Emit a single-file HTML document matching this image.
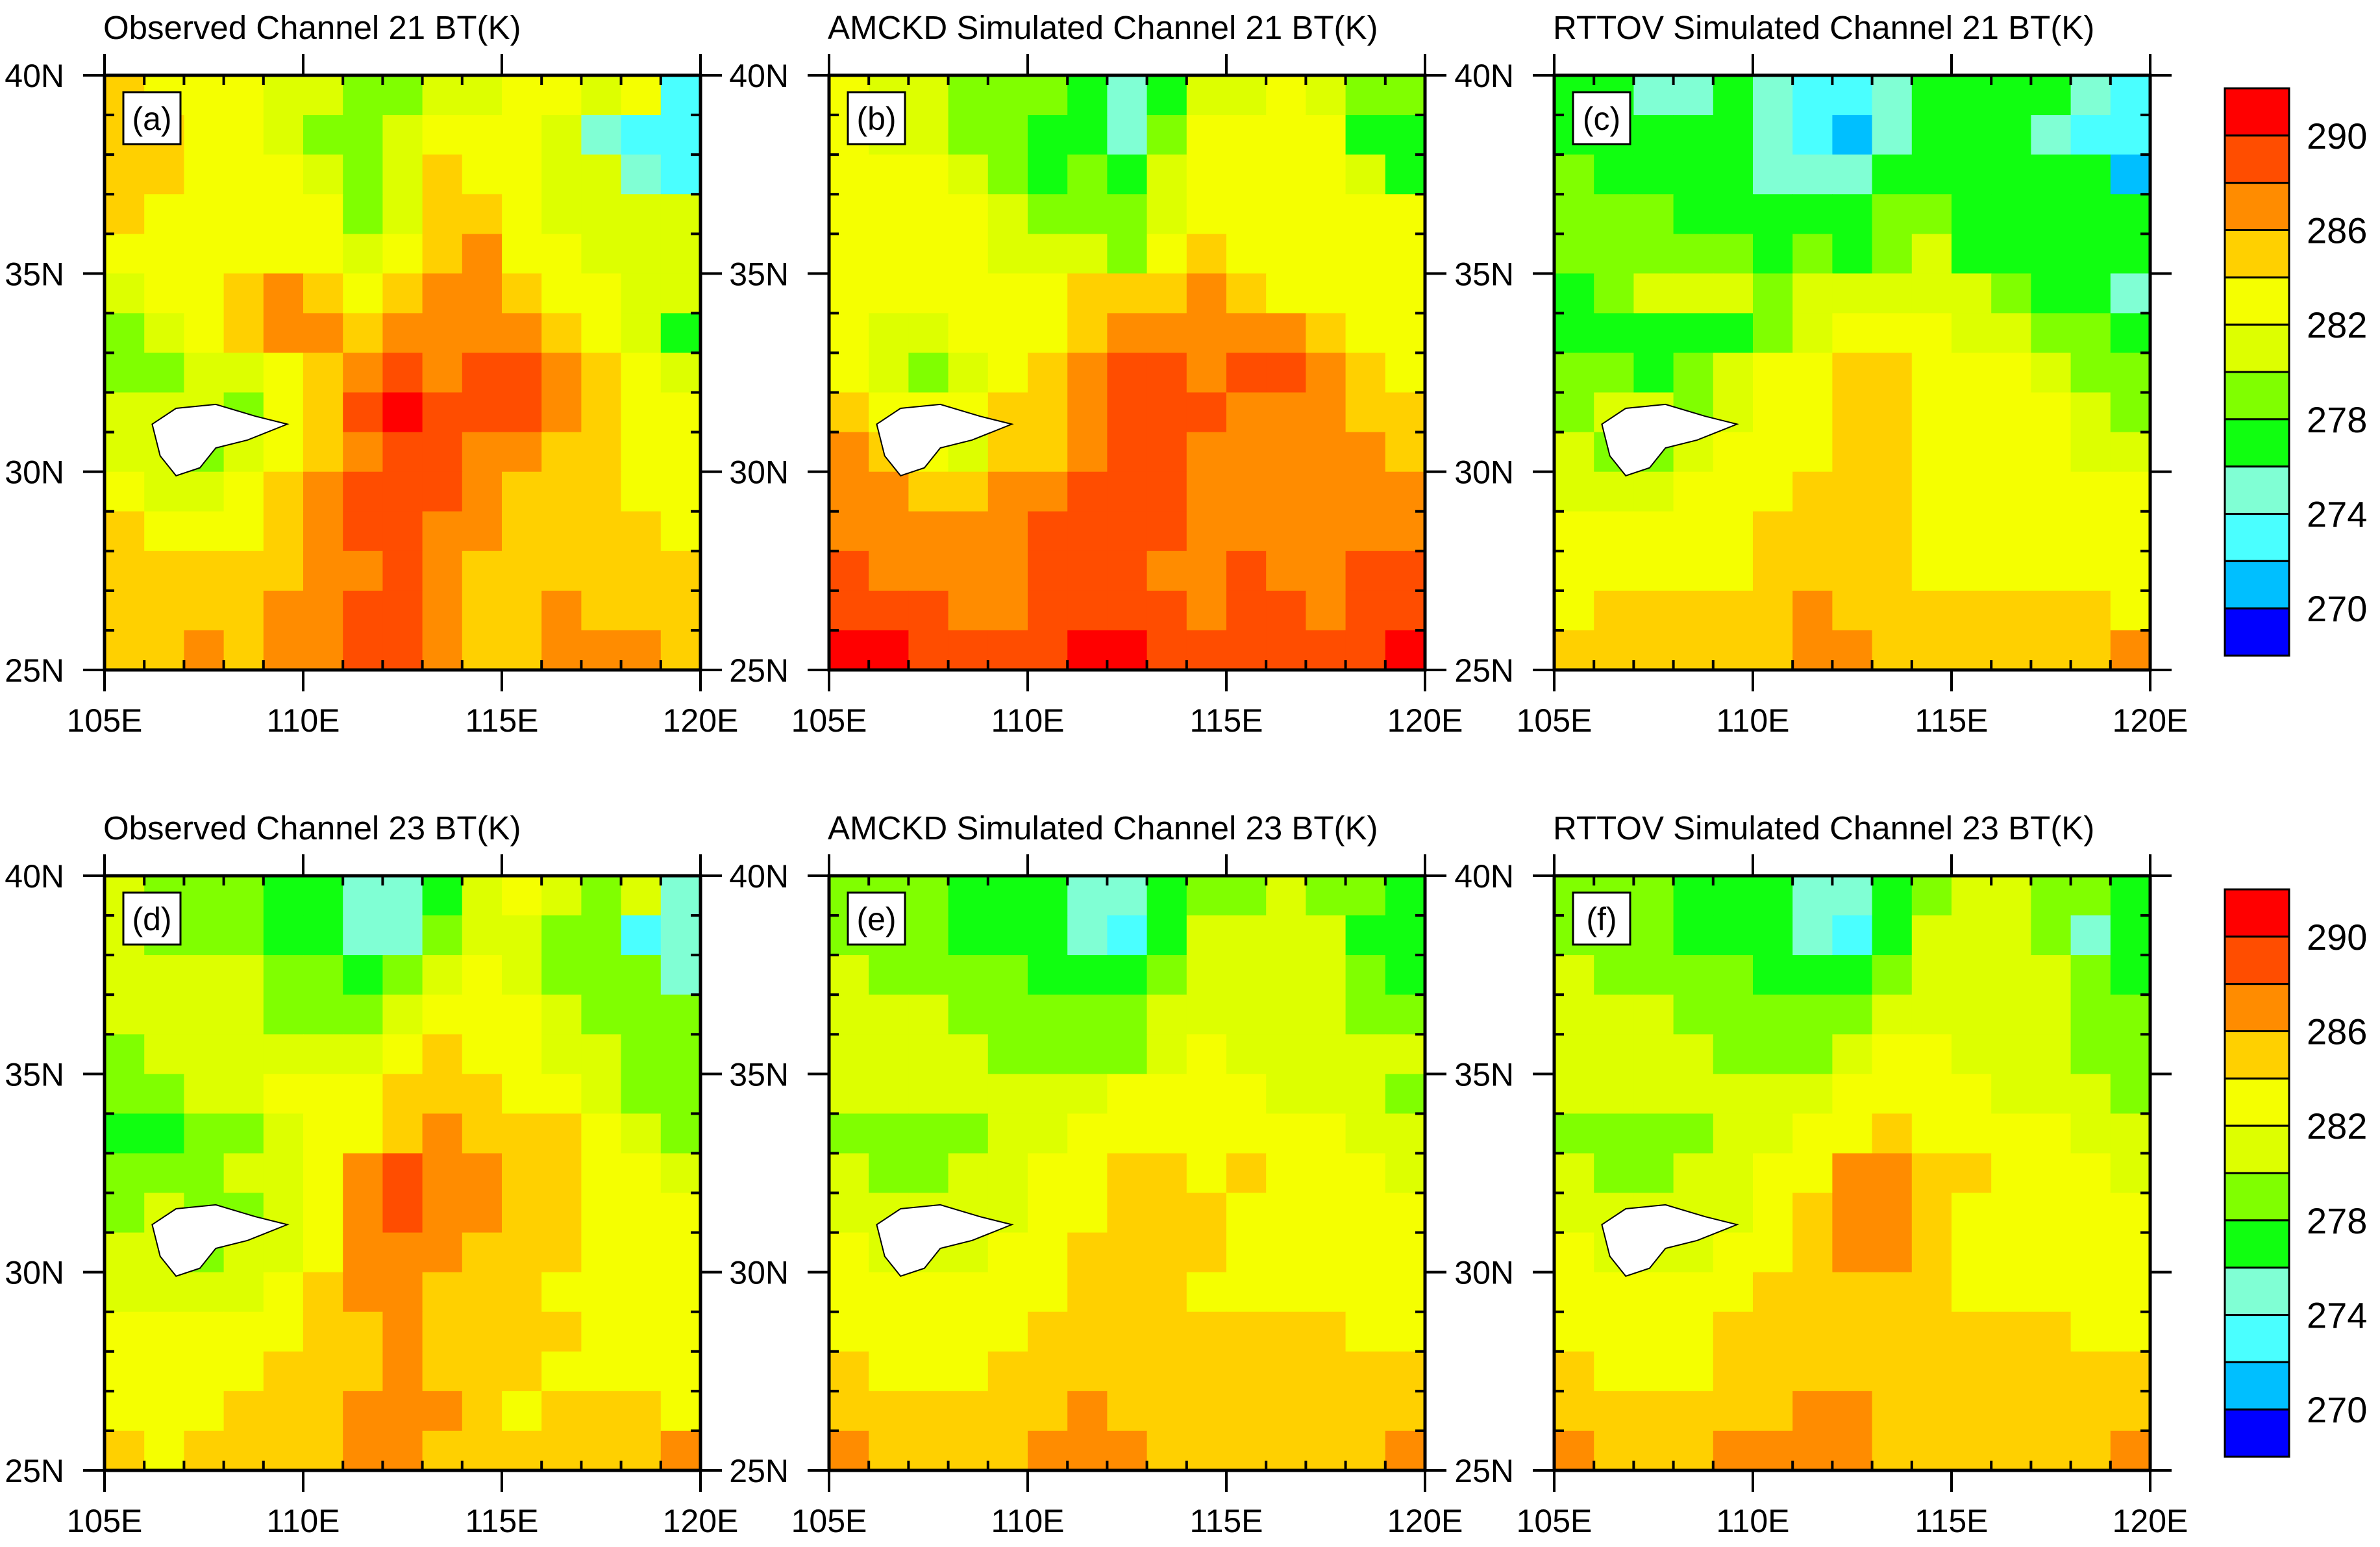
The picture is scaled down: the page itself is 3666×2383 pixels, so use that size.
<!DOCTYPE html>
<html><head><meta charset="utf-8">
<style>
html,body{margin:0;padding:0;background:#fff;}
svg{display:block;font-family:"Liberation Sans",Arial,sans-serif;}
</style></head>
<body>
<svg id="fig" width="3666" height="2383" viewBox="0 0 3666 2383" xmlns="http://www.w3.org/2000/svg"></svg>
<script>
// ---- data ----
const lonTicks = ["105E","110E","115E","120E"];
const latTicks = ["40N","35N","30N","25N"];
const cbLabels = ["290","286","282","278","274","270"];
const levels = [270,272,274,276,278,280,282,284,286,288,290];
const colors = ["#0000FF","#00BFFF","#4AFFFF","#80FFD4","#10FF10","#80FF00","#DDFF00","#F5FF00","#FFD000","#FF8C00","#FF4D00","#FF0000"];
const titles = ["Observed Channel 21 BT(K)","AMCKD Simulated Channel 21 BT(K)","RTTOV Simulated Channel 21 BT(K)",
                "Observed Channel 23 BT(K)","AMCKD Simulated Channel 23 BT(K)","RTTOV Simulated Channel 23 BT(K)"];
const panelTags = ["(a)","(b)","(c)","(d)","(e)","(f)"];
const lakeLon = [106.2,106.8,107.8,108.8,109.6,108.6,107.8,107.4,106.8,106.4];
const lakeLat = [31.2,31.6,31.7,31.4,31.2,30.8,30.6,30.1,29.9,30.4];

const gridA = [
[285,283,283,283,281,281,279,279,281,281,283,283,281,283,273],
[285,285,283,283,281,279,279,281,283,283,283,281,275,273,273],
[285,285,283,283,283,281,279,281,285,283,283,281,281,275,273],
[285,283,283,283,283,283,279,281,285,285,283,281,281,281,281],
[283,283,283,283,283,283,281,283,285,287,283,283,281,281,281],
[281,283,283,285,287,285,283,285,287,287,285,283,283,281,281],
[279,281,283,285,287,287,285,287,287,287,287,285,283,281,277],
[279,279,281,281,283,285,287,289,287,289,289,287,285,283,281],
[281,281,281,279,283,285,289,291,289,289,289,287,285,283,283],
[281,281,279,281,283,285,287,289,289,287,287,285,285,283,283],
[283,281,281,283,285,287,289,289,289,287,285,285,285,283,283],
[285,283,283,283,285,287,289,289,287,287,285,285,285,285,283],
[285,285,285,285,285,287,287,289,287,285,285,285,285,285,285],
[285,285,285,285,287,287,289,289,287,285,285,287,285,285,285],
[285,285,287,285,287,287,289,289,287,285,285,287,287,287,285]];
const gridB = [
[283,281,281,279,279,279,277,275,277,281,281,283,281,279,279],
[283,281,281,279,279,277,277,275,279,283,283,283,283,277,277],
[283,283,283,281,279,277,279,277,281,283,283,283,283,281,277],
[283,283,283,283,281,279,279,279,281,283,283,283,283,283,283],
[283,283,283,283,281,281,281,279,283,285,283,283,283,283,283],
[283,283,283,283,283,283,285,285,285,287,285,283,283,283,283],
[283,281,281,283,283,283,285,287,287,287,287,287,285,283,283],
[283,281,279,281,283,285,287,289,289,287,289,289,287,285,283],
[285,283,283,283,285,285,287,289,289,289,287,287,287,285,285],
[287,285,283,281,285,285,287,289,289,287,287,287,287,287,285],
[287,287,285,285,287,287,289,289,289,287,287,287,287,287,287],
[287,287,287,287,287,289,289,289,289,287,287,287,287,287,287],
[289,287,287,287,287,289,289,289,287,287,289,287,287,289,289],
[289,289,289,287,287,289,289,289,289,287,289,289,287,289,289],
[291,291,289,289,289,289,291,291,289,289,289,289,289,289,291]];
const gridC = [
[277,277,275,275,277,275,273,273,275,277,277,277,277,275,273],
[277,277,277,277,277,275,273,271,275,277,277,277,275,273,273],
[279,277,277,277,277,275,275,275,277,277,277,277,277,277,271],
[279,279,279,277,277,277,277,277,279,279,277,277,277,277,277],
[279,279,279,279,279,277,279,277,279,281,277,277,277,277,277],
[277,279,281,281,281,279,281,281,281,281,281,279,277,277,275],
[277,277,277,277,277,279,281,283,283,283,281,281,279,279,277],
[279,279,277,279,281,283,283,285,285,283,283,283,281,279,279],
[279,281,281,279,281,283,283,285,285,283,283,283,283,281,279],
[281,279,279,281,283,283,283,285,285,283,283,283,283,281,281],
[281,281,281,283,283,283,285,285,285,283,283,283,283,283,283],
[283,283,283,283,283,285,285,285,285,283,283,283,283,283,283],
[283,283,283,283,283,285,285,285,285,283,283,283,283,283,283],
[283,285,285,285,285,285,287,285,285,285,285,285,285,285,283],
[285,285,285,285,285,285,287,287,285,285,285,285,285,285,287]];
const gridD = [
[281,279,279,279,277,277,275,275,277,281,283,281,279,281,275],
[281,279,279,279,277,277,275,275,279,281,281,279,279,273,275],
[281,281,281,281,279,279,277,279,281,283,281,279,279,279,275],
[281,281,281,281,279,279,279,281,283,283,283,281,279,279,279],
[279,281,281,281,281,281,281,283,285,283,283,281,281,279,279],
[279,279,281,281,283,283,283,285,285,285,283,283,281,279,279],
[277,277,279,279,281,283,283,285,287,285,285,285,283,281,279],
[279,279,279,281,281,283,287,289,287,287,285,285,283,283,281],
[279,281,279,279,281,283,287,289,287,287,285,285,283,283,283],
[281,281,279,281,281,283,287,287,287,285,285,285,283,283,283],
[281,281,281,281,283,285,287,287,285,285,285,283,283,283,283],
[283,283,283,283,283,285,285,287,285,285,285,285,283,283,283],
[283,283,283,283,285,285,285,287,285,285,285,283,283,283,283],
[283,283,283,285,285,285,287,287,287,285,283,285,285,285,283],
[285,283,285,285,285,285,287,287,285,285,285,285,285,285,287]];
const gridE = [
[279,279,279,277,277,277,275,275,277,279,279,281,279,279,277],
[279,279,279,277,277,277,275,273,277,281,281,281,281,277,277],
[281,279,279,279,279,277,277,277,279,281,281,281,281,279,277],
[281,281,281,279,279,279,279,279,281,281,281,281,281,279,279],
[281,281,281,281,279,279,279,279,281,283,281,281,281,281,281],
[281,281,281,281,281,281,281,283,283,283,283,281,281,281,279],
[279,279,279,279,281,281,283,283,283,283,283,283,283,281,281],
[281,279,279,281,281,283,283,285,285,283,285,283,283,283,281],
[281,281,281,281,281,283,283,285,285,285,283,283,283,283,283],
[283,281,281,281,283,283,285,285,285,285,283,283,283,283,283],
[283,283,283,283,283,283,285,285,285,283,283,283,283,283,283],
[283,283,283,283,283,285,285,285,285,285,285,285,285,283,283],
[285,283,283,283,285,285,285,285,285,285,285,285,285,285,285],
[285,285,285,285,285,285,287,285,285,285,285,285,285,285,285],
[287,285,285,285,285,287,287,287,285,285,285,285,285,285,287]];
const gridF = [
[279,279,279,277,277,277,275,275,277,279,281,281,279,279,277],
[279,279,279,277,277,277,275,273,277,281,281,281,279,275,277],
[281,279,279,279,279,277,277,277,279,281,281,281,281,279,277],
[281,281,281,279,279,279,279,279,281,281,281,281,281,279,279],
[281,281,281,281,279,279,279,281,283,283,281,281,281,279,279],
[281,281,281,281,281,281,281,283,283,283,283,281,281,281,279],
[279,279,279,279,281,281,283,283,285,283,283,283,283,281,281],
[281,279,279,281,281,283,283,287,287,285,285,283,283,283,281],
[281,281,281,281,281,283,285,287,287,285,283,283,283,283,283],
[283,281,281,281,283,283,285,287,287,285,283,283,283,283,283],
[283,283,283,283,283,285,285,285,285,285,283,283,283,283,283],
[283,283,283,283,285,285,285,285,285,285,285,285,285,283,283],
[285,283,283,283,285,285,285,285,285,285,285,285,285,285,285],
[285,285,285,285,285,285,287,287,285,285,285,285,285,285,285],
[287,285,285,285,287,287,287,287,285,285,285,285,285,285,287]];
const grids = [gridA,gridB,gridC,gridD,gridE,gridF];

// ---- layout ----
const NS = "http://www.w3.org/2000/svg";
const svg = document.getElementById("fig");
const colX = [161,1277,2394];
const rowY = [116,1349];
const PW = 918, PH = 916;
const LON0 = 105, LON1 = 120, LAT0 = 25, LAT1 = 40;

function mk(tag, attrs, parent){
  const e = document.createElementNS(NS, tag);
  for (const k in attrs) e.setAttribute(k, attrs[k]);
  (parent||svg).appendChild(e);
  return e;
}
function colorFor(v){
  let i = 0;
  while (i < levels.length && v >= levels[i]) i++;
  return colors[i];
}

grids.forEach((grid, p) => {
  const x0 = colX[p % 3], y0 = rowY[Math.floor(p / 3)];
  const xs = lon => x0 + (lon - LON0) / (LON1 - LON0) * PW;
  const ys = lat => y0 + (LAT1 - lat) / (LAT1 - LAT0) * PH;
  const g = mk("g", {});
  
  
  const nr = grid.length, nc = grid[0].length;
  const dLat = (LAT1 - LAT0) / nr, dLon = (LON1 - LON0) / nc;
  for (let r = 0; r < nr; r++) {
    for (let c = 0; c < nc; c++) {
      const lonA = LON0 + c * dLon, latA = LAT1 - r * dLat;
      const x = xs(lonA), y = ys(latA);
      const cell = mk("rect", {x: x.toFixed(1), y: y.toFixed(1),
        width: (xs(lonA + dLon) - x + 0.6).toFixed(1), height: (ys(latA - dLat) - y + 0.6).toFixed(1),
        fill: colorFor(grid[r][c])}, g);
      
      
    }
  }
  // no-data lake region
  const pts = lakeLon.map((lo, i) => xs(lo).toFixed(1) + "," + ys(lakeLat[i]).toFixed(1)).join(" ");
  const lake = mk("polygon", {points: pts, fill: "#fff", stroke: "#000", "stroke-width": 2}, g);
  
  

  // ticks
  const tk = mk("g", {stroke: "#000", "stroke-width": 4}, g);
  
  
  for (let lo = LON0; lo <= LON1; lo++) {
    const x = xs(lo), major = (lo % 5 === 0);
    if (major) {
      mk("line", {x1: x, x2: x, y1: y0 - 33, y2: y0}, tk);
      mk("line", {x1: x, x2: x, y1: y0 + PH, y2: y0 + PH + 33}, tk);
    } else {
      mk("line", {x1: x, x2: x, y1: y0, y2: y0 + 15}, tk);
      mk("line", {x1: x, x2: x, y1: y0 + PH - 15, y2: y0 + PH}, tk);
    }
  }
  for (let la = LAT0; la <= LAT1; la++) {
    const y = ys(la), major = (la % 5 === 0);
    if (major) {
      mk("line", {x1: x0 - 33, x2: x0, y1: y, y2: y}, tk);
      mk("line", {x1: x0 + PW, x2: x0 + PW + 33, y1: y, y2: y}, tk);
    } else {
      mk("line", {x1: x0, x2: x0 + 15, y1: y, y2: y}, tk);
      mk("line", {x1: x0 + PW - 15, x2: x0 + PW, y1: y, y2: y}, tk);
    }
  }
  const frame = mk("rect", {x: x0, y: y0, width: PW, height: PH, fill: "none", stroke: "#000", "stroke-width": 5}, g);
  
  

  lonTicks.forEach((t, i) => {
    const lo = LON0 + i * 5;
    const tx = mk("text", {x: xs(lo), y: y0 + PH + 95, "font-size": 50, "text-anchor": "middle"}, g);
    tx.textContent = t;
    
    
  });
  latTicks.forEach((t, i) => {
    const la = LAT1 - i * 5;
    const tx = mk("text", {x: x0 - 62, y: ys(la) + 18, "font-size": 50, "text-anchor": "end"}, g);
    tx.textContent = t;
    
    
  });
  const title = mk("text", {x: x0 - 2, y: y0 - 56, "font-size": 51}, g);
  title.textContent = titles[p];
  
  

  const tagBox = mk("rect", {x: x0 + 29, y: y0 + 26, width: 88, height: 80, fill: "#fff", stroke: "#000", "stroke-width": 3}, g);
  
  
  const tag = mk("text", {x: x0 + 73, y: y0 + 84, "font-size": 50, "text-anchor": "middle"}, g);
  tag.textContent = panelTags[p];
  
  
});

// colorbars
[136, 1370].forEach((cy, k) => {
  const cbx = 3427, cbw = 99, cbh = 874;
  const g = mk("g", {});
  
  
  const n = colors.length, bh = cbh / n;
  for (let i = 0; i < n; i++) {
    const box = mk("rect", {x: cbx, y: cy + i * bh, width: cbw, height: bh, fill: colors[n - 1 - i], stroke: "#000", "stroke-width": 3}, g);
    
    
  }
  cbLabels.forEach((t, i) => {
    const tx = mk("text", {x: 3553, y: cy + (1 + 2 * i) * bh + 20, "font-size": 56}, g);
    tx.textContent = t;
    
    
  });
});
</script>
</body></html>
